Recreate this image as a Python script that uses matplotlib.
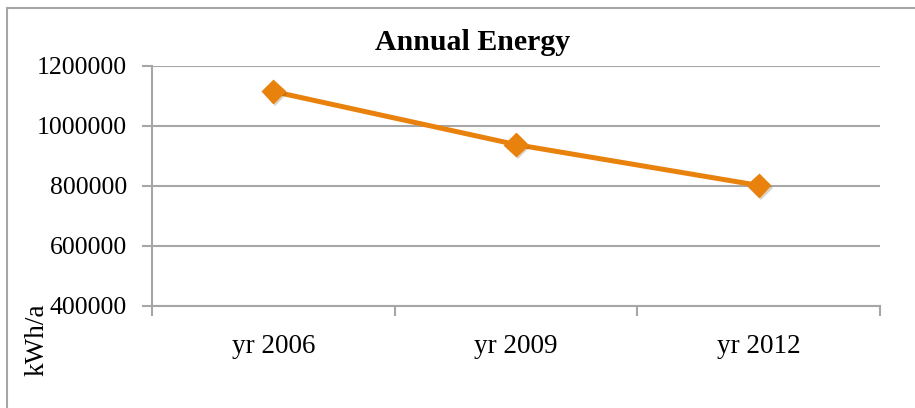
import matplotlib.pyplot as plt
import matplotlib.patheffects as pe
from matplotlib.patches import Rectangle

years = ['yr 2006', 'yr 2009', 'yr 2012']
energy = [1115000, 938000, 802000]
y_ticks = [400000, 600000, 800000, 1000000, 1200000]

plt.rcParams['font.family'] = ['Liberation Serif', 'DejaVu Serif']

fig = plt.figure(figsize=(9.15, 4.08), dpi=100)
ax = fig.add_axes([152 / 915, 1 - 306 / 408, 728 / 915, 240 / 408])

# outer chart border (left and top only visible)
fig.patches.append(Rectangle((7 / 915, -0.1), 1.2, (408 - 8) / 408 + 0.1,
                             transform=fig.transFigure, fill=False,
                             edgecolor='#a6a6a6', linewidth=1.5))

x = range(len(years))
ax.plot(x, energy, color='#e8820c', linewidth=3.6)
ax.plot(x, energy, linestyle='none', marker='D', markersize=12,
        color='#e8820c', markeredgecolor='#e8820c',
        path_effects=[pe.SimplePatchShadow(offset=(1.5, -2), alpha=0.2), pe.Normal()])

ax.set_xlim(-0.5, len(years) - 0.5)
ax.set_ylim(400000, 1200000)
ax.set_yticks(y_ticks)
ax.set_yticklabels([str(v) for v in y_ticks])
ax.yaxis.grid(True, color='#a6a6a6', linewidth=1.5)
ax.set_axisbelow(True)

# category boundaries as major ticks, labels on minor ticks
ax.set_xticks([i - 0.5 for i in range(len(years) + 1)])
ax.set_xticklabels([])
ax.set_xticks(list(x), minor=True)
ax.set_xticklabels(years, minor=True)
ax.tick_params(axis='x', which='minor', length=0, pad=20, labelsize=19.5)
ax.tick_params(axis='x', which='major', length=7, width=1.5, color='#a6a6a6', direction='out')
ax.tick_params(axis='y', length=7, width=1.5, color='#a6a6a6', pad=11, labelsize=18.5)

for s in ['top', 'right']:
    ax.spines[s].set_visible(False)
for s in ['left', 'bottom']:
    ax.spines[s].set_color('#a6a6a6')
    ax.spines[s].set_linewidth(1.5)

fig.text(473 / 915, 1 - 43 / 408, 'Annual Energy', ha='center', va='center',
         fontsize=21.5, fontweight='bold')
fig.text(37 / 915, 1 - 340 / 408, 'kWh/a', rotation=90, ha='center', va='center',
         fontsize=19.5)

fig.savefig('out.png', dpi=100)
